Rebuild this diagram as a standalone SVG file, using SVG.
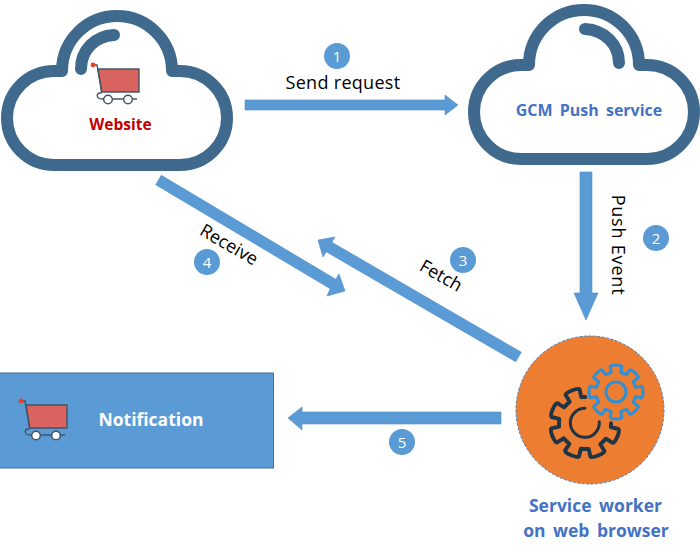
<svg xmlns="http://www.w3.org/2000/svg" xmlns:xlink="http://www.w3.org/1999/xlink" width="700" height="557" viewBox="0 0 700 557">
<style>
text{font-family:"Open Sans","Liberation Sans",sans-serif}
.cl{fill:#fff;stroke:#3F6A8D;stroke-width:12;stroke-linejoin:round;stroke-linecap:round}
.hl{fill:none;stroke:#3F6A8D;stroke-width:12;stroke-linecap:round}
.ar{fill:#5B9BD5;stroke:#4F8CC4;stroke-width:.6}
.nc{fill:#5B9BD5}
.nt{fill:#fff;font-size:15px;text-anchor:middle}
.lb{fill:#000;font-size:18px}
.bl{fill:#4472C4;font-size:16px;font-weight:700}
.bw{fill:#4472C4;font-size:17.500px;font-weight:700}
.cb{fill:#D9635E;stroke:#44546A;stroke-width:1.400}
.cw{fill:none;stroke:#44546A;stroke-width:1.400}
.wh{fill:#fff;stroke:#44546A;stroke-width:1.500}
.gb{fill:none;stroke:#2E8FD6;stroke-width:3;stroke-linejoin:round;stroke-linecap:round}
.gd{fill:none;stroke:#1F3444;stroke-width:3;stroke-linejoin:round;stroke-linecap:round}
</style>
<defs>
<g id="cart">
<path class="cb" d="M98 69H139V92H101.700Z"/>
<path class="cw" d="M93 65H97L101.700 92M101.700 93H100C96 93 96 99 102 99H137"/>
<circle cx="93" cy="65" r="2.400" fill="#E8402A"/>
<circle class="wh" cx="108" cy="99.500" r="4.300"/>
<circle class="wh" cx="128" cy="99.500" r="4.300"/>
</g>
<path id="tooth" d="M-7.650-18.500L-4.800-19.500L-5.800-25.500Q-5.500-27 0-27Q5.500-27 5.800-25.500L4.800-19.500L7.650-18.500"/>
</defs>
<g id="connectors">
<polygon class="ar" points="245,100 445,100 445,95 458,105 445,115 445,110 245,110"/>
<polygon class="ar" points="580,172 592,172 592,293 598,293 586,320 574,293 580,293"/>
<polygon class="ar" points="521.300,352.200 515.700,361.800 326.200,251.800 323,257 318,240 335,237 331.800,242.200"/>
<polygon class="ar" points="161.300,175.300 155.700,184.700 330.200,288.700 327,296 345,291 339,274 335.800,279.300"/>
<polygon class="ar" points="501,412 501,424 302,424 302,430 288,418 302,407 302,412"/>
</g>
<g id="website">
<path class="cl" d="M62 165H54A47 47 0 0 1 54 71H62A55 55 0 0 1 172 71H180A47 47 0 0 1 180 165Z"/>
<path class="hl" d="M81 69C81 50 95 36 114 35"/>
<use xlink:href="#cart" href="#cart"/>
<text x="120.500" y="130" font-size="15.500" font-weight="700" fill="#C00000" text-anchor="middle">Website</text>
</g>
<g id="gcm">
<path class="cl" d="M529 159H521A47 47 0 0 1 521 65H529A55 55 0 0 1 639 65H647A47 47 0 0 1 647 159Z"/>
<path class="hl" d="M585 29C604 30 619 44 619 63"/>
<text class="bl" x="589" y="115.500" text-anchor="middle" word-spacing="3">GCM Push service</text>
</g>
<g id="worker">
<circle cx="590" cy="410" r="74" fill="#ED7D31" stroke="#4A7FB5" stroke-width="1" stroke-dasharray="3 1.500"/>
<g class="gb" transform="translate(616 392)">
<use xlink:href="#tooth" href="#tooth"/>
<use xlink:href="#tooth" href="#tooth" transform="rotate(45)"/>
<use xlink:href="#tooth" href="#tooth" transform="rotate(90)"/>
<use xlink:href="#tooth" href="#tooth" transform="rotate(135)"/>
<use xlink:href="#tooth" href="#tooth" transform="rotate(180)"/>
<use xlink:href="#tooth" href="#tooth" transform="rotate(225)"/>
<use xlink:href="#tooth" href="#tooth" transform="rotate(270)"/>
<use xlink:href="#tooth" href="#tooth" transform="rotate(315)"/>
<circle r="10"/>
</g>
<g class="gd" transform="translate(585 423) scale(1.300)">
<use xlink:href="#tooth" href="#tooth" transform="rotate(113)"/>
<use xlink:href="#tooth" href="#tooth" transform="rotate(158)"/>
<use xlink:href="#tooth" href="#tooth" transform="rotate(203)"/>
<use xlink:href="#tooth" href="#tooth" transform="rotate(248)"/>
<use xlink:href="#tooth" href="#tooth" transform="rotate(293)"/>
<use xlink:href="#tooth" href="#tooth" transform="rotate(338)"/>
</g>
<path class="gd" d="M599.300 421.700A14.500 14.500 0 1 1 585 408.300"/>
<text class="bw" x="595.500" y="512" text-anchor="middle" word-spacing="3">Service worker</text>
<text class="bw" x="596" y="537" text-anchor="middle" word-spacing="3">on web browser</text>
</g>
<g id="notification">
<rect x="-1" y="373" width="274.500" height="95" fill="#5B9BD5" stroke="#41719C" stroke-width="1"/>
<use xlink:href="#cart" href="#cart" transform="translate(-72 336)"/>
<text x="151" y="426" font-size="17.500" font-weight="700" fill="#fff" text-anchor="middle">Notification</text>
</g>
<g id="labels">
<text class="lb" x="343" y="89" text-anchor="middle" letter-spacing=".3">Send request</text>
<text class="lb" transform="translate(612 245) rotate(90)" text-anchor="middle" letter-spacing=".8">Push Event</text>
<text class="lb" transform="translate(438 281) rotate(30)" text-anchor="middle">Fetch</text>
<text class="lb" transform="translate(226 250) rotate(30)" text-anchor="middle">Receive</text>
</g>
<g id="badge1"><circle class="nc" cx="337" cy="56" r="13"/><text class="nt" x="337" y="61.500">1</text></g>
<g id="badge2"><circle class="nc" cx="656" cy="238" r="13"/><text class="nt" x="656" y="243.500">2</text></g>
<g id="badge3"><circle class="nc" cx="463" cy="260" r="13"/><text class="nt" x="463" y="265.500">3</text></g>
<g id="badge4"><circle class="nc" cx="207" cy="262" r="13"/><text class="nt" x="207" y="267.500">4</text></g>
<g id="badge5"><circle class="nc" cx="402" cy="442" r="13"/><text class="nt" x="402" y="447.500">5</text></g>
</svg>
